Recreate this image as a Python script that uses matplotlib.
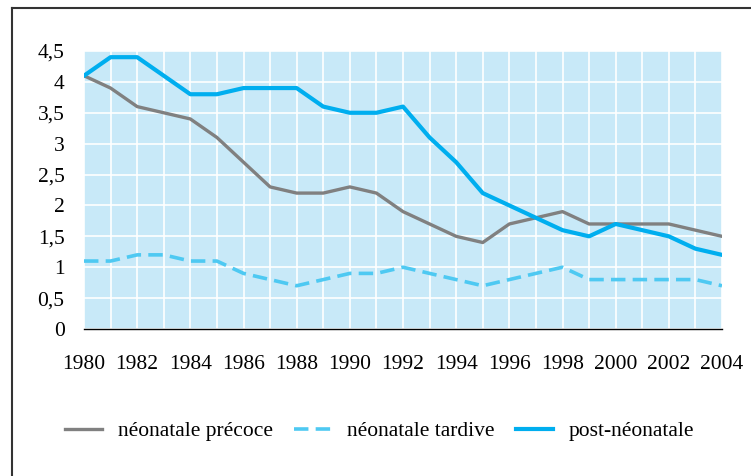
import matplotlib
matplotlib.use("Agg")
import matplotlib.pyplot as plt
from matplotlib.lines import Line2D

years = list(range(1980, 2005))
precoce = [4.1, 3.9, 3.6, 3.5, 3.4, 3.1, 2.7, 2.3, 2.2, 2.2, 2.3, 2.2, 1.9,
           1.7, 1.5, 1.4, 1.7, 1.8, 1.9, 1.7, 1.7, 1.7, 1.7, 1.6, 1.5]
tardive = [1.1, 1.1, 1.2, 1.2, 1.1, 1.1, 0.9, 0.8, 0.7, 0.8, 0.9, 0.9, 1.0,
           0.9, 0.8, 0.7, 0.8, 0.9, 1.0, 0.8, 0.8, 0.8, 0.8, 0.8, 0.7]
post = [4.1, 4.4, 4.4, 4.1, 3.8, 3.8, 3.9, 3.9, 3.9, 3.6, 3.5, 3.5, 3.6,
        3.1, 2.7, 2.2, 2.0, 1.8, 1.6, 1.5, 1.7, 1.6, 1.5, 1.3, 1.2]
labels = ["néonatale précoce", "néonatale tardive", "post-néonatale"]
y_ticks = [0, 0.5, 1, 1.5, 2, 2.5, 3, 3.5, 4, 4.5]

plt.rcParams["font.family"] = ["Liberation Serif", "DejaVu Serif"]
fs = 15.5

fig = plt.figure(figsize=(7.51, 4.76), dpi=100)
ax = fig.add_axes([84 / 751, 1 - 329 / 476, 638 / 751, 278 / 476])
ax.set_facecolor("#c8e9f8")

ax.plot(years, precoce, color="#808080", lw=2.4, label=labels[0], zorder=3)
ax.plot(years, tardive, color="#4ec9f2", lw=2.6, dashes=(4, 2), label=labels[1], zorder=3)
ax.plot(years, post, color="#00aeef", lw=3.0, label=labels[2], zorder=4)

ax.set_xlim(1980, 2004)
ax.set_ylim(0, 4.5)
ax.set_xticks(years, minor=True)
ax.set_xticks(range(1980, 2005, 2))
ax.set_yticks(y_ticks)
ax.set_yticklabels([f"{v:g}".replace(".", ",") for v in y_ticks])
ax.grid(True, which="both", color="white", lw=1.2)
ax.set_axisbelow(True)
ax.tick_params(which="both", length=0, labelsize=fs)
ax.tick_params(axis="y", pad=14)
ax.tick_params(axis="x", pad=19)
for side in ["top", "right", "left"]:
    ax.spines[side].set_visible(False)
ax.spines["bottom"].set_color("black")
ax.spines["bottom"].set_linewidth(1.0)

fig.legend(loc="center left", bbox_to_anchor=(65 / 751, 1 - 431 / 476), ncol=3,
           frameon=False, fontsize=fs, handlelength=1.72, columnspacing=0.98,
           handletextpad=0.74, borderpad=0, borderaxespad=0)

# outer frame (only top and left edges visible)
fig.add_artist(Line2D([12 / 751, 12 / 751], [0, 1 - 8 / 476], transform=fig.transFigure,
                      color="#333333", lw=1.5))
fig.add_artist(Line2D([12 / 751, 1], [1 - 8 / 476, 1 - 8 / 476], transform=fig.transFigure,
                      color="#333333", lw=1.5))

fig.savefig("out.png", dpi=100)
